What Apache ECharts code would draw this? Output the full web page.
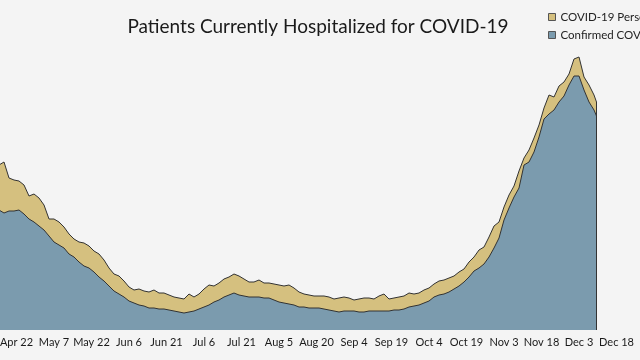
<!DOCTYPE html>
<html>
<head>
<meta charset="utf-8">
<script src="https://cdn.jsdelivr.net/npm/echarts@6/dist/echarts.min.js"></script>
<style>
html,body{margin:0;padding:0;background:#f4f4f4;}
#chart{width:640px;height:360px;}
</style>
</head>
<body>
<div id="chart"></div>
<script>
// Day offsets from Apr 22, 2020
var days = [-7,-5,-3,-1,1,3,5,7,9,11,13,15,17,19,21,23,25,27,29,31,33,35,37,39,41,43,45,47,49,51,53,55,57,59,61,63,65,67,69,71,73,75,77,79,81,83,85,87,89,91,93,95,97,99,101,103,105,107,109,111,113,115,117,119,121,123,125,127,129,131,133,135,137,139,141,143,145,147,149,151,153,155,157,159,161,163,165,167,169,171,173,175,177,179,181,183,185,187,189,191,193,195,197,199,201,203,205,207,209,211,213,215,217,219,221,223,225,227,229,231,232];

var confirmed = [2400,2340,2380,2380,2400,2320,2220,2160,2080,2000,1880,1760,1700,1640,1520,1460,1360,1280,1240,1160,1060,980,880,780,720,660,580,540,500,480,440,440,420,420,400,380,360,340,360,380,420,460,500,560,600,660,700,740,700,680,660,660,660,640,640,600,560,540,520,500,460,460,440,440,440,420,400,380,360,380,380,380,360,360,380,380,380,380,380,400,400,420,460,480,500,540,580,660,700,720,760,820,880,960,1060,1180,1240,1320,1460,1640,1840,2200,2440,2660,2840,3300,3360,3560,3860,4220,4320,4400,4560,4680,4900,5080,5080,4800,4560,4400,4280];

var pui = [900,1020,660,620,580,580,460,560,560,500,340,460,460,420,400,360,400,460,440,420,460,420,360,340,360,320,280,260,320,300,320,360,320,320,300,280,280,280,360,280,300,360,400,320,340,360,360,380,380,340,300,300,340,300,300,320,340,340,380,340,300,260,260,240,240,260,260,240,280,280,260,220,260,280,260,240,300,340,240,240,260,260,280,240,240,260,260,260,280,280,280,260,280,260,300,280,360,340,400,440,320,260,260,220,340,140,240,280,240,220,380,260,320,280,220,340,380,260,340,300,280];

var tickLabels = ['Apr 7','Apr 22','May 7','May 22','Jun 6','Jun 21','Jul 6','Jul 21','Aug 5','Aug 20','Sep 4','Sep 19','Oct 4','Oct 19','Nov 3','Nov 18','Dec 3','Dec 18'];

var seriesNames = ['COVID-19 Persons Under Investigation','Confirmed COVID-19'];
var titleText = 'Patients Currently Hospitalized for COVID-19';

var xMin = -15, xMax = 255, xStep = 15;

// Stacked top edge (confirmed + persons under investigation)
var confirmedPts = days.map(function(d,i){ return [d, confirmed[i]]; });
var totalPts = days.map(function(d,i){ return [d, confirmed[i] + pui[i]]; });
var last = days.length - 1;

var chart = echarts.init(document.getElementById('chart'), null, {renderer:'canvas'});
chart.setOption({
  backgroundColor:'#f4f4f4',
  animation:false,
  title:{
    text:titleText, left:313, top:12,
    textAlign:'center',
    textStyle:{fontFamily:'Lato', fontSize:19, fontWeight:'normal', color:'#1a1a1a'}
  },
  legend:{
    orient:'vertical', left:543, top:6,
    itemWidth:7, itemHeight:7, itemGap:6, icon:'rect',
    data:[seriesNames[0], seriesNames[1]],
    itemStyle:{borderColor:'#555', borderWidth:1},
    textStyle:{fontFamily:'Lato', fontSize:11.5, color:'#222'}
  },
  grid:{left:-21, right:-14, top:30, bottom:30, containLabel:false, outerBoundsMode:'none'},
  xAxis:{
    type:'value', min:xMin, max:xMax, interval:xStep,
    axisLine:{show:false}, axisTick:{show:false}, splitLine:{show:false},
    axisLabel:{
      margin:7, color:'#1a1a1a', fontFamily:'Lato', fontSize:11, hideOverlap:false,
      formatter:function(v){ var i=Math.round((v-xMin)/xStep); return (i>=0 && i<tickLabels.length)? tickLabels[i] : ''; }
    }
  },
  yAxis:{
    type:'value', min:0, max:6000, show:false, splitLine:{show:false}
  },
  series:[
    {
      name:seriesNames[0], type:'line', data:totalPts,
      symbol:'none', smooth:false, z:2,
      itemStyle:{color:'#d5c07f'},
      lineStyle:{color:'#333', width:1},
      areaStyle:{color:'#d5c07f', opacity:1}
    },
    {
      name:seriesNames[1], type:'line', data:confirmedPts,
      symbol:'none', smooth:false, z:3,
      itemStyle:{color:'#7b9bae'},
      lineStyle:{color:'#333', width:1},
      areaStyle:{color:'#7b9bae', opacity:1},
      markLine:{
        silent:true, symbol:['none','none'], label:{show:false},
        lineStyle:{color:'#333', width:1, type:'solid'},
        data:[[{coord:[days[last], 0]}, {coord:[days[last], confirmed[last] + pui[last]]}]]
      }
    }
  ]
});
</script>
</body>
</html>
